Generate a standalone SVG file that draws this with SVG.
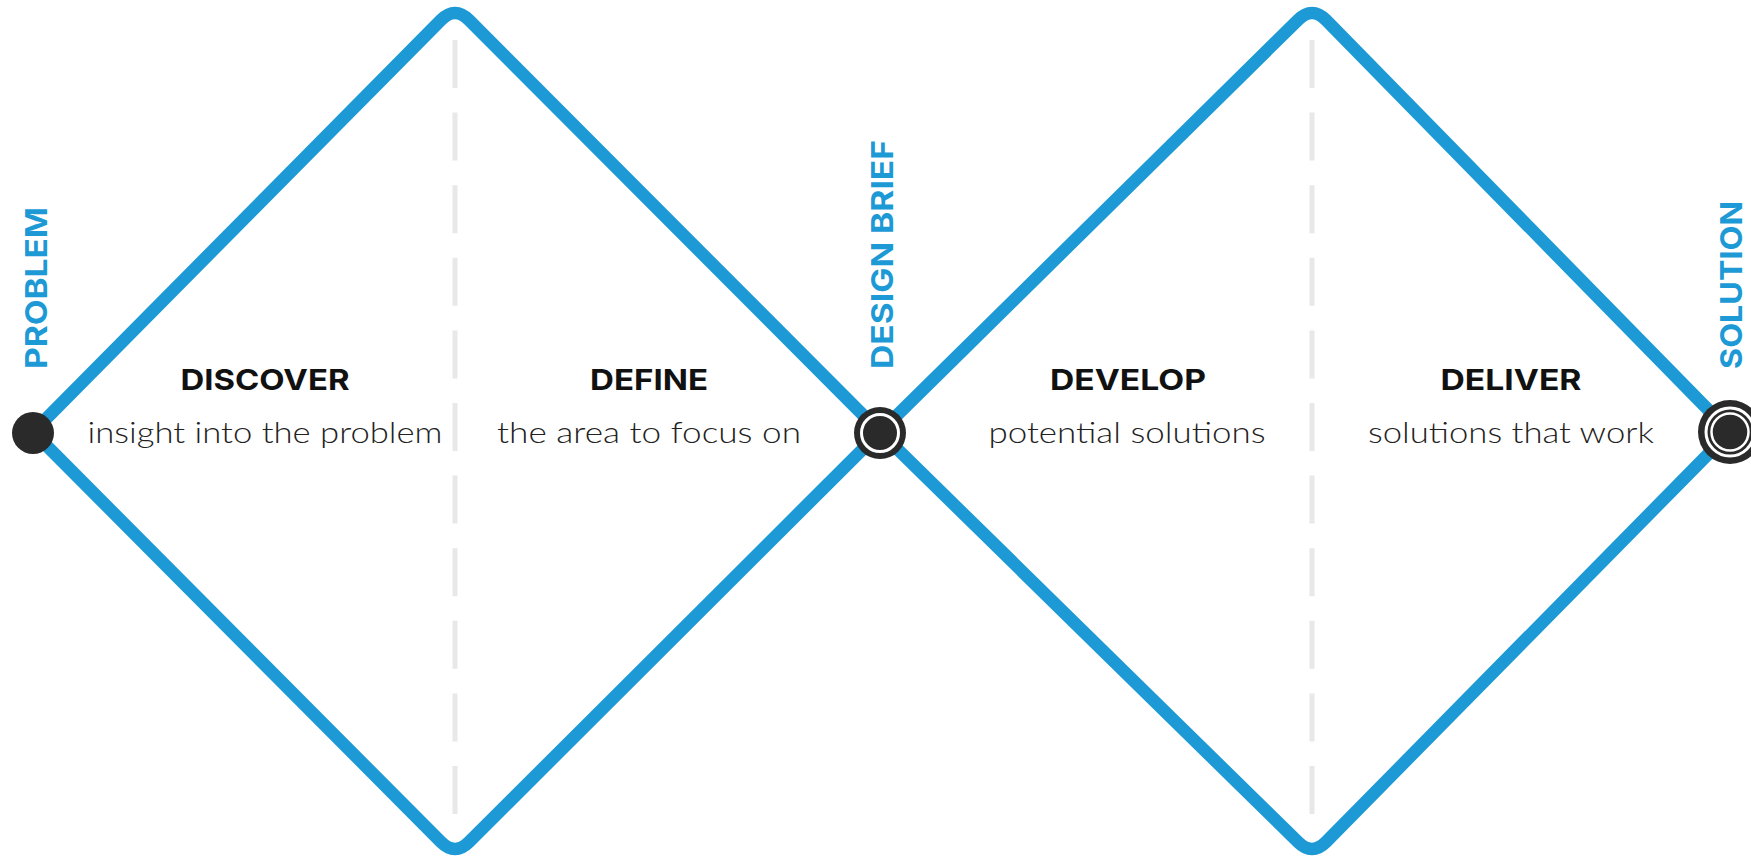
<svg xmlns="http://www.w3.org/2000/svg" width="1751" height="860" viewBox="0 0 1751 860">
<style>
.dia{fill:none;stroke:#1d9ad6;stroke-width:12.5;stroke-linejoin:round}
.dash{stroke:#e8e8e8;stroke-width:5;stroke-dasharray:48 24.6}
.head{font-family:Inter,"Liberation Sans",sans-serif;font-weight:700;font-size:29px;fill:#111;text-anchor:middle}
.sub{font-family:Lato,"Open Sans","Liberation Sans",sans-serif;font-weight:300;font-size:29px;fill:#222;text-anchor:middle}
.lab{font-family:Inter,"Liberation Sans",sans-serif;font-weight:700;font-size:30px;fill:#1d9ad6}
.dot{fill:#2a2a2a}
.ring{fill:none;stroke:#fff}
</style>
<rect width="1751" height="860" fill="#fff"/>
<g id="connectors">
<line class="dash" x1="455" y1="40" x2="455" y2="825"/>
<line class="dash" x1="1312" y1="40" x2="1312" y2="825"/>
<path class="dia" d="M33,432 L441,20 Q455,6 469,20 L880,432 L469,842 Q455,856 441,842 Z"/>
<path class="dia" d="M880,432 L1298,20 Q1312,6 1326,20 L1730,432 L1326,842 Q1312,856 1298,842 Z"/>
</g>
<g id="problem">
<circle class="dot" cx="33" cy="433" r="21"/>
<text class="lab" transform="translate(47,369) rotate(-90)" textLength="162" lengthAdjust="spacingAndGlyphs">PROBLEM</text>
</g>
<g id="design-brief">
<circle class="dot" cx="880" cy="433" r="26"/>
<circle class="ring" cx="880" cy="433" r="18.5" stroke-width="3"/>
<text class="lab" transform="translate(893,369) rotate(-90)" textLength="229" lengthAdjust="spacingAndGlyphs">DESIGN BRIEF</text>
</g>
<g id="solution">
<circle class="dot" cx="1730" cy="432" r="32"/>
<circle class="ring" cx="1730" cy="432" r="24" stroke-width="3"/>
<circle class="ring" cx="1730" cy="432" r="18.5" stroke-width="2.5"/>
<text class="lab" transform="translate(1742,369) rotate(-90)" textLength="168" lengthAdjust="spacingAndGlyphs">SOLUTION</text>
</g>
<g id="discover">
<text class="head" x="265" y="390" textLength="169" lengthAdjust="spacingAndGlyphs">DISCOVER</text>
<text class="sub" x="265" y="443" textLength="355" lengthAdjust="spacingAndGlyphs">insight into the problem</text>
</g>
<g id="define">
<text class="head" x="649" y="390" textLength="118" lengthAdjust="spacingAndGlyphs">DEFINE</text>
<text class="sub" x="649" y="443" textLength="304" lengthAdjust="spacingAndGlyphs">the area to focus on</text>
</g>
<g id="develop">
<text class="head" x="1128" y="390" textLength="156" lengthAdjust="spacingAndGlyphs">DEVELOP</text>
<text class="sub" x="1127" y="443" textLength="277" lengthAdjust="spacingAndGlyphs">potential solutions</text>
</g>
<g id="deliver">
<text class="head" x="1511" y="390" textLength="141" lengthAdjust="spacingAndGlyphs">DELIVER</text>
<text class="sub" x="1511" y="443" textLength="286" lengthAdjust="spacingAndGlyphs">solutions that work</text>
</g>
</svg>
